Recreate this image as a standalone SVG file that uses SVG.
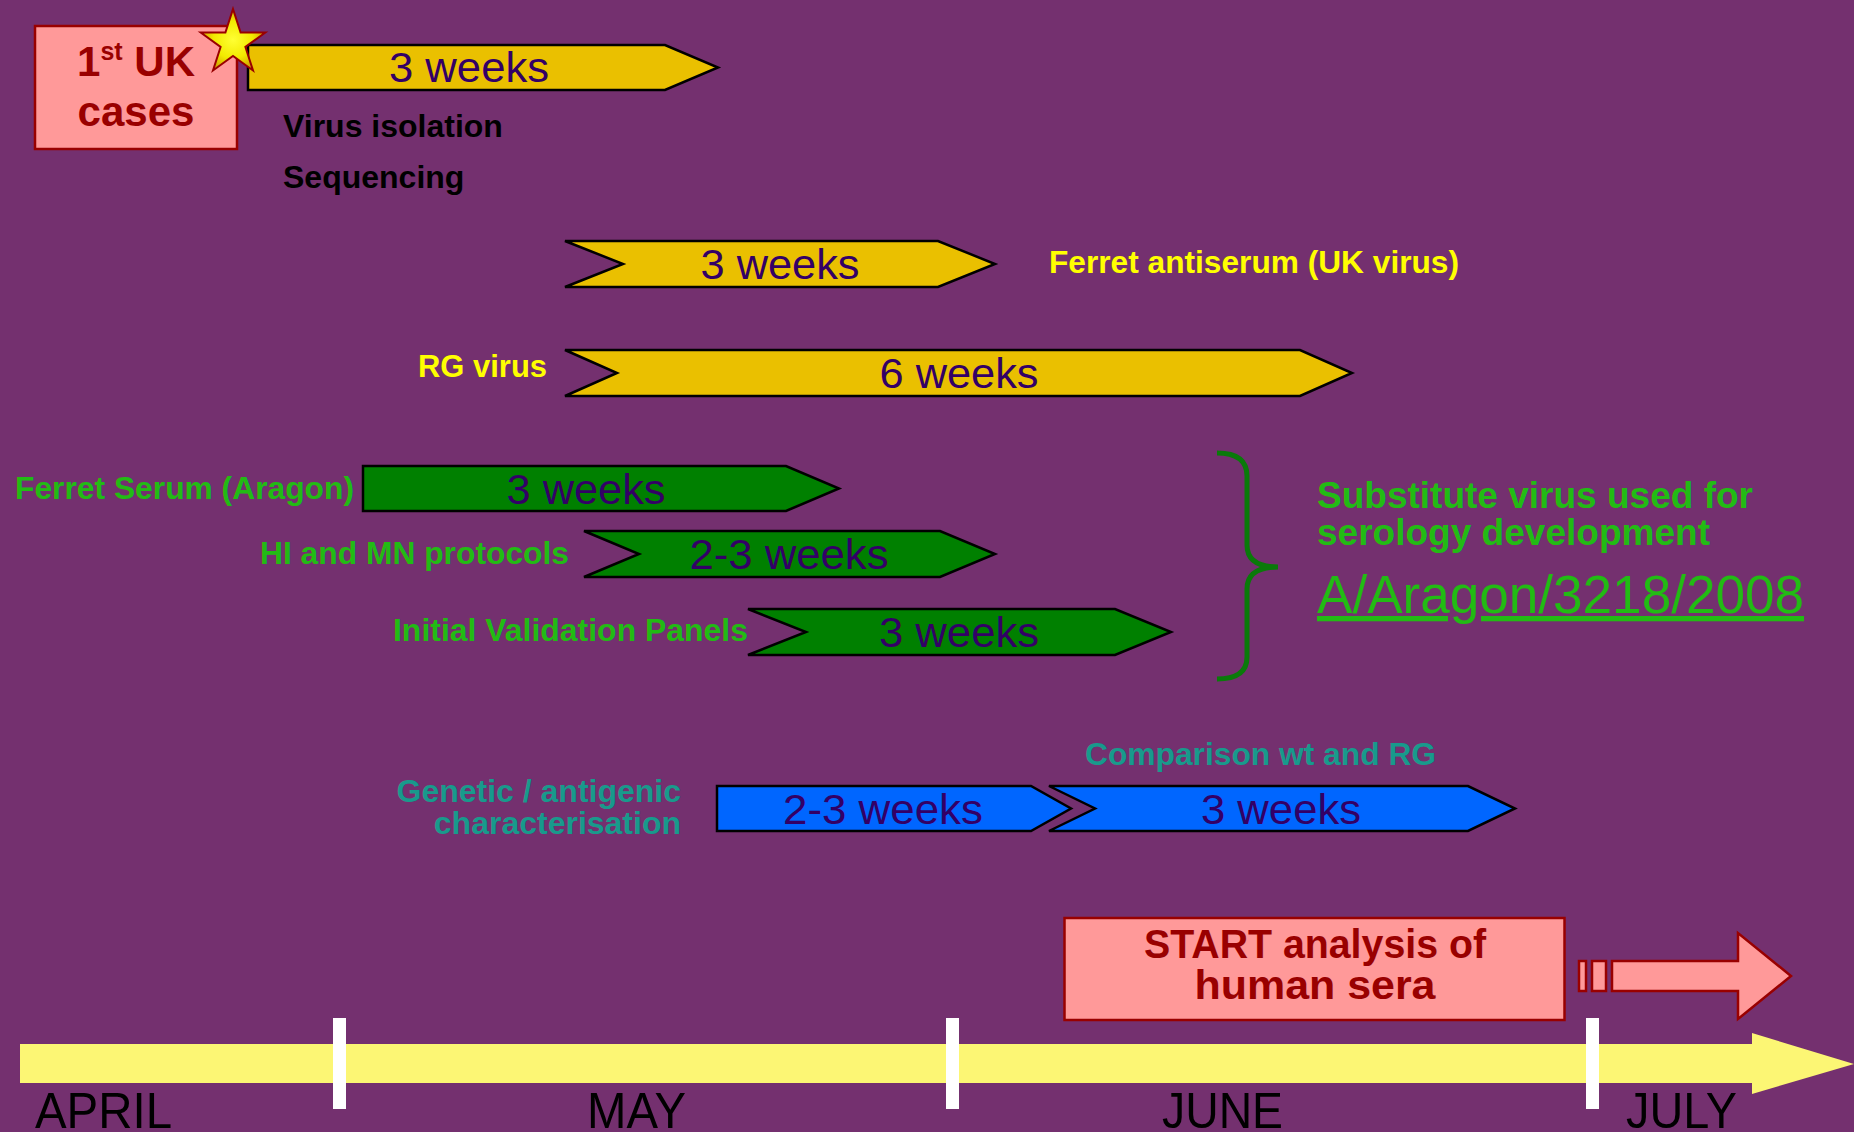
<svg xmlns="http://www.w3.org/2000/svg" width="1854" height="1132" viewBox="0 0 1854 1132">
<defs>
<radialGradient id="starGrad" cx="50%" cy="50%" r="55%">
<stop offset="0" stop-color="#FFFF33"/>
<stop offset="0.55" stop-color="#F2EA00"/>
<stop offset="1" stop-color="#C89400"/>
</radialGradient>
<style>
.bg{fill:#74306F}
.yarrow{fill:#EAC000;stroke:#000;stroke-width:2.5;stroke-linejoin:miter}
.garrow{fill:#008000;stroke:#000;stroke-width:2.5}
.barrow{fill:#0066FF;stroke:#000;stroke-width:2.5}
.pink{fill:#FF9999;stroke:#990000;stroke-width:2.5}
.wk{font-family:"Liberation Sans",Arial,sans-serif;font-size:42px;fill:#330066;text-anchor:middle}
.lbl{font-family:"Liberation Sans",Arial,sans-serif;font-size:32px;font-weight:bold}
.blk{fill:#000}
.yel{fill:#FFFF00}
.grn{fill:#22BB14}
.teal{fill:#189A8C}
.red{fill:#990000;font-family:"Liberation Sans",Arial,sans-serif;font-weight:bold;text-anchor:middle}
.month{font-family:"Liberation Sans",Arial,sans-serif;font-size:50px;fill:#000}
.tick{fill:#FFFFFF}
</style>
</defs>
<rect class="bg" x="0" y="0" width="1854" height="1132"/>

<g id="timeline">
<polygon points="20,1044 1752,1044 1752,1033 1854,1064 1752,1094 1752,1083 20,1083" fill="#FCF674"/>
<rect class="tick" x="333" y="1018" width="13" height="91"/>
<rect class="tick" x="946" y="1018" width="13" height="91"/>
<rect class="tick" x="1586" y="1018" width="13" height="91"/>
<text class="month" x="35" y="1128" textLength="137" lengthAdjust="spacingAndGlyphs">APRIL</text>
<text class="month" x="587" y="1128" textLength="99" lengthAdjust="spacingAndGlyphs">MAY</text>
<text class="month" x="1162" y="1128" textLength="121" lengthAdjust="spacingAndGlyphs">JUNE</text>
<text class="month" x="1626" y="1128" textLength="111" lengthAdjust="spacingAndGlyphs">JULY</text>
</g>

<g id="uk-cases">
<rect class="pink" x="35" y="26" width="202" height="123"/>
<text class="red" x="136" y="76" font-size="42">1<tspan font-size="25" dy="-16">st</tspan><tspan dy="16"> UK</tspan></text>
<text class="red" x="136" y="126" font-size="42">cases</text>
</g>

<g id="virus-isolation">
<polygon class="yarrow" points="248,45 665,45 718,67.5 665,90 248,90"/>
<text class="wk" x="469" y="82" textLength="160" lengthAdjust="spacingAndGlyphs">3 weeks</text>
<text class="lbl blk" x="283" y="137">Virus isolation</text>
<text class="lbl blk" x="283" y="188">Sequencing</text>
</g>

<g id="star">
<polygon points="233,9 240.6,32.5 265.3,32.5 245.4,47 253,70.5 233,56 213,70.5 220.6,47 200.7,32.5 225.4,32.5" fill="url(#starGrad)" stroke="#990000" stroke-width="2"/>
</g>

<g id="ferret-antiserum">
<polygon class="yarrow" points="565,241 938,241 995,264 938,287 565,287 623,264"/>
<text class="wk" x="780" y="279" textLength="159" lengthAdjust="spacingAndGlyphs">3 weeks</text>
<text class="lbl yel" x="1049" y="273" textLength="410" lengthAdjust="spacingAndGlyphs">Ferret antiserum (UK virus)</text>
</g>

<g id="rg-virus">
<polygon class="yarrow" points="565,350 1300,350 1352,373 1300,396 565,396 617,373"/>
<text class="wk" x="959" y="388" textLength="159" lengthAdjust="spacingAndGlyphs">6 weeks</text>
<text class="lbl yel" x="418" y="377" textLength="129" lengthAdjust="spacingAndGlyphs">RG virus</text>
</g>

<g id="ferret-serum-aragon">
<polygon class="garrow" points="363,466 786,466 839,488.5 786,511 363,511"/>
<text class="wk" x="586" y="504" textLength="159" lengthAdjust="spacingAndGlyphs">3 weeks</text>
<text class="lbl grn" x="15" y="499" textLength="339" lengthAdjust="spacingAndGlyphs">Ferret Serum (Aragon)</text>
</g>

<g id="hi-mn-protocols">
<polygon class="garrow" points="584,531 940,531 995,554 940,577 584,577 639,554"/>
<text class="wk" x="789" y="569" textLength="199" lengthAdjust="spacingAndGlyphs">2-3 weeks</text>
<text class="lbl grn" x="260" y="564" textLength="309" lengthAdjust="spacingAndGlyphs">HI and MN protocols</text>
</g>

<g id="validation-panels">
<polygon class="garrow" points="748,609 1115,609 1171,632 1115,655 748,655 806,632"/>
<text class="wk" x="959" y="647" textLength="160" lengthAdjust="spacingAndGlyphs">3 weeks</text>
<text class="lbl grn" x="393" y="641" textLength="355" lengthAdjust="spacingAndGlyphs">Initial Validation Panels</text>
</g>

<g id="substitute-virus">
<path d="M1217,453 Q1247,453 1247,476 L1247,545 Q1247,567 1278,567 Q1247,567 1247,589 L1247,657 Q1247,679 1217,679" fill="none" stroke="#0A7A0A" stroke-width="5"/>
<text class="grn" x="1317" y="508" font-family="'Liberation Sans',Arial,sans-serif" font-size="36" font-weight="bold" textLength="436" lengthAdjust="spacingAndGlyphs">Substitute virus used for</text>
<text class="grn" x="1317" y="545" font-family="'Liberation Sans',Arial,sans-serif" font-size="36" font-weight="bold" textLength="393" lengthAdjust="spacingAndGlyphs">serology development</text>
<text class="grn" x="1317" y="613" font-family="'Liberation Sans',Arial,sans-serif" font-size="53" text-decoration="underline" textLength="487" lengthAdjust="spacingAndGlyphs">A/Aragon/3218/2008</text>
</g>

<g id="genetic-characterisation">
<polygon class="barrow" points="717,786 1031,786 1071,808.5 1031,831 717,831"/>
<text class="wk" x="883" y="824" textLength="200" lengthAdjust="spacingAndGlyphs">2-3 weeks</text>
<text class="lbl teal" x="681" y="802" text-anchor="end">Genetic / antigenic</text>
<text class="lbl teal" x="681" y="834" text-anchor="end">characterisation</text>
</g>

<g id="comparison">
<polygon class="barrow" points="1049,786 1468,786 1515,808.5 1468,831 1049,831 1095,808.5"/>
<text class="wk" x="1281" y="824" textLength="160" lengthAdjust="spacingAndGlyphs">3 weeks</text>
<text class="lbl teal" x="1085" y="765" textLength="351" lengthAdjust="spacingAndGlyphs">Comparison wt and RG</text>
</g>

<g id="start-analysis">
<rect class="pink" x="1064.5" y="918" width="500" height="102"/>
<text class="red" x="1315" y="958" font-size="40" textLength="342" lengthAdjust="spacingAndGlyphs">START analysis of</text>
<text class="red" x="1315" y="999" font-size="40" textLength="241" lengthAdjust="spacingAndGlyphs">human sera</text>
</g>

<g id="connectors">
<rect class="pink" x="1579" y="961" width="7" height="30"/>
<rect class="pink" x="1592" y="961" width="14" height="30"/>
<polygon class="pink" points="1612,961 1738,961 1738,933 1791,976 1738,1019 1738,991 1612,991"/>
</g>
</svg>
